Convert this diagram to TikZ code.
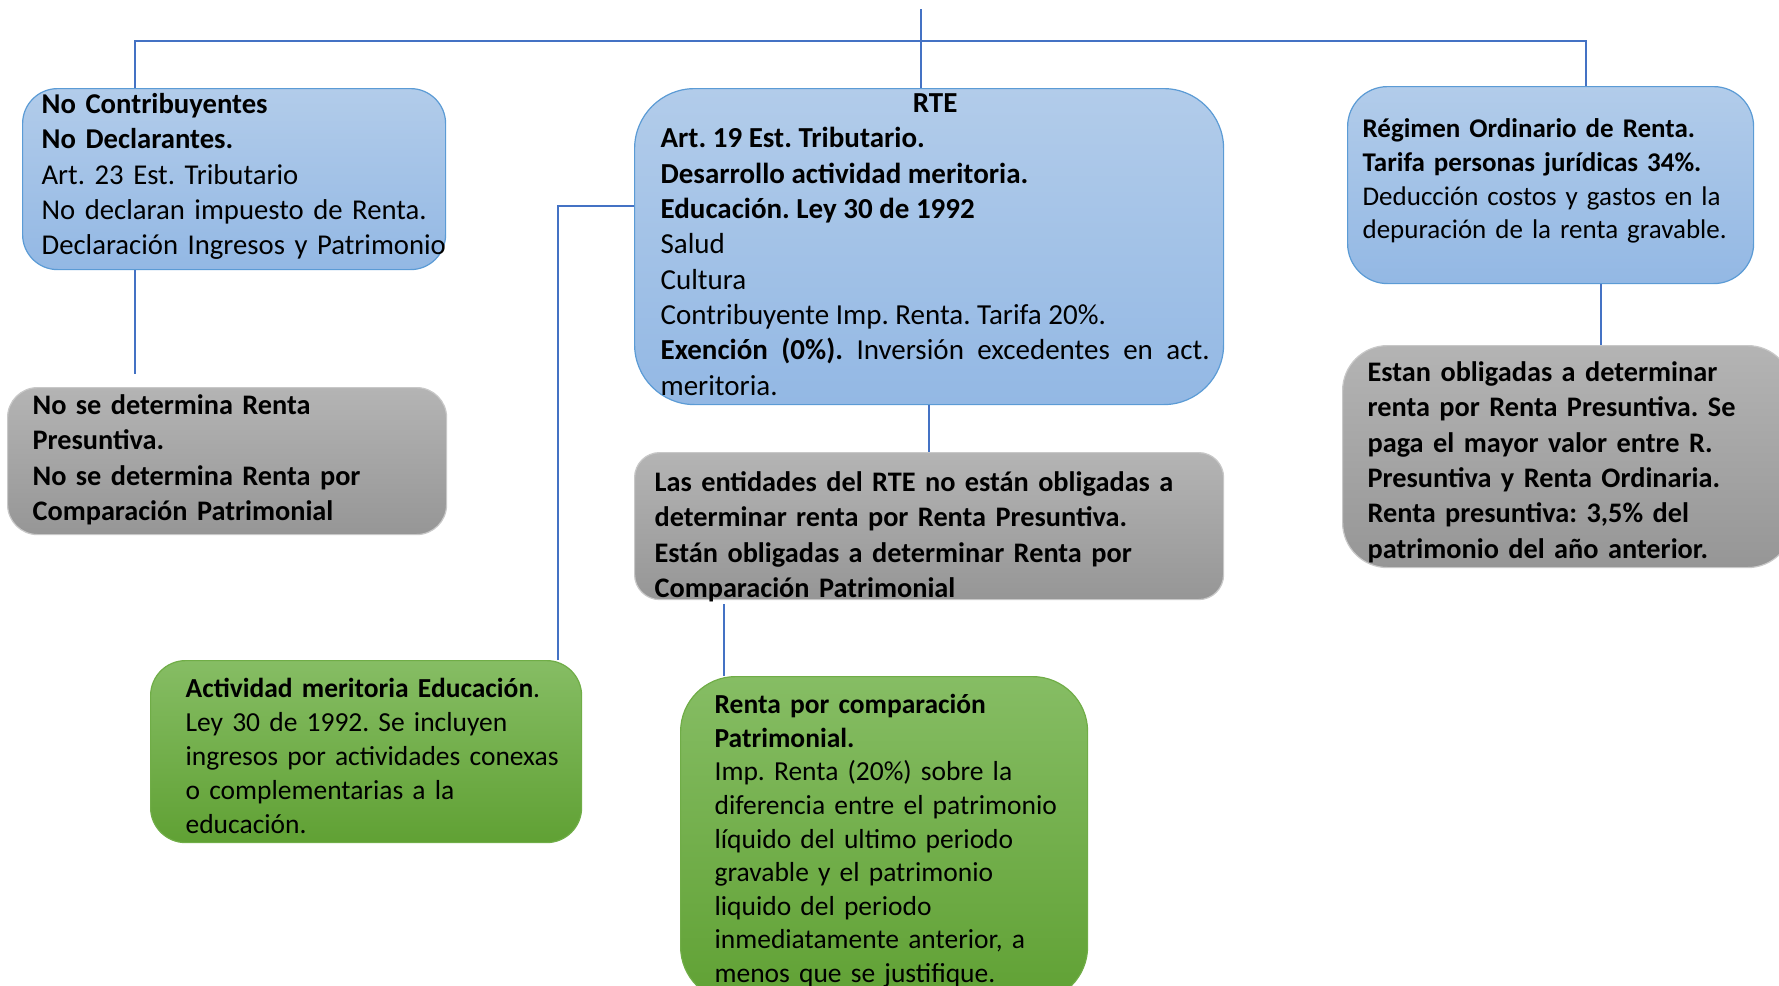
\documentclass[tikz,border=0pt]{standalone}
\usepackage{fontspec}
\setmainfont{Carlito}
\frenchspacing
\definecolor{linkblue}{RGB}{68,114,196}
\definecolor{bluetop}{RGB}{178,204,234}
\definecolor{bluebot}{RGB}{147,184,228}
\definecolor{blueline}{RGB}{91,155,213}
\definecolor{graytop}{RGB}{180,180,180}
\definecolor{graybot}{RGB}{150,150,150}
\definecolor{grayline}{RGB}{200,200,200}
\definecolor{greentop}{RGB}{134,189,100}
\definecolor{greenbot}{RGB}{96,161,52}
\definecolor{greenline}{RGB}{112,173,71}
\tikzset{
    box/.style = {anchor = north west, inner ysep = 0pt, inner xsep = 0pt, line width = 1.2pt, rounded corners = #1},
    pad/.style 2 args = {execute at begin node = {\leftskip=#1\rightskip=#2}},
    bluebox/.style = {box = #1, draw = blueline, top color = bluetop, bottom color = bluebot, align = left},
    graybox/.style = {box = #1, draw = grayline, top color = graytop, bottom color = graybot, align = left,
        font = \fontsize{28.3}{35.3}\selectfont\bfseries},
    greenbox/.style = {box = #1, draw = greenline, top color = greentop, bottom color = greenbot, align = left},
    link/.style = {draw = linkblue, line width = 2.5pt}
}

\begin{document}
\begin{tikzpicture}[x = 1pt, y = -1pt, font = \fontsize{29}{35.3}\selectfont]
    \useasboundingbox (0,0) rectangle (1779,985);

    \node[bluebox = 35pt, text width = 423pt, pad = {19pt}{0pt plus 1fil}, text height = 25pt, text depth = 156pt, font = \fontsize{28.7}{35.3}\selectfont] (nc) at (22,88)
        {\textbf{No Contribuyentes}\\ \textbf{No Declarantes.}\\ Art. 23 Est. Tributario\\ No declaran impuesto de Renta.\\ \mbox{Declaración Ingresos y Patrimonio}};
    \node[graybox = 30pt, text width = 439pt, pad = {25pt}{0pt plus 1fil}, text height = 27pt, text depth = 120pt] (ns) at (7,387)
        {No se determina Renta\\ Presuntiva.\\ No se determina Renta por\\ Comparación Patrimonial};

    \node[bluebox = 60pt, align = justify, text width = 589pt, pad = {26pt}{14pt}, text height = 24pt, text depth = 292pt] (rte) at (634,88)
        {\hfill\textbf{RTE}\hfill\null\\ \textbf{Art. 19 Est. Tributario.}\\ \textbf{Desarrollo actividad meritoria.}\\ \textbf{Educación. Ley 30 de 1992}\\ Salud\\ Cultura\\ Contribuyente Imp. Renta. Tarifa 20\%.\\ \textbf{Exención (0\%).} Inversión excedentes en act.\linebreak meritoria.};
    \node[graybox = 25pt, text width = 589pt, pad = {20pt}{0pt plus 1fil}, text height = 39pt, text depth = 108pt] (rtegray) at (634,452)
        {Las entidades del RTE no están obligadas a\\ determinar renta por Renta Presuntiva.\\ Están obligadas a determinar Renta por\\ \mbox{Comparación Patrimonial}};

    \node[bluebox = 40pt, text width = 406pt, pad = {15pt}{0pt plus 1fil}, text height = 51pt, text depth = 146pt, font = \fontsize{27}{33.7}\selectfont] (reg) at (1347,86)
        {\textbf{Régimen Ordinario de Renta.}\\ \textbf{Tarifa personas jurídicas 34\%.}\\ Deducción costos y gastos en la\\ depuración de la renta gravable.};
    \node[graybox = 45pt, text width = 450pt, pad = {25pt}{0pt plus 1fil}, text height = 36pt, text depth = 186pt] (estan) at (1342,345)
        {Estan obligadas a determinar\\ renta por Renta Presuntiva. Se\\ paga el mayor valor entre R.\\ Presuntiva y Renta Ordinaria.\\ Renta presuntiva: 3,5\% del\\ patrimonio del año anterior.};

    \node[greenbox = 35pt, text width = 431pt, pad = {35pt}{0pt plus 1fil}, text height = 37pt, text depth = 145pt, font = \fontsize{27.5}{34}\selectfont] (act) at (150,660)
        {\textbf{Actividad meritoria Educación}.\\ Ley 30 de 1992. Se incluyen\\ ingresos por actividades conexas\\ o complementarias a la\\ educación.};
    \node[greenbox = 55pt, text width = 407pt, pad = {34pt}{0pt plus 1fil}, text height = 37pt, text depth = 288pt, font = \fontsize{27.5}{33.6}\selectfont] (renta) at (680,676)
        {\textbf{Renta por comparación}\\ \textbf{Patrimonial.}\\ Imp. Renta (20\%) sobre la\\ diferencia entre el patrimonio\\ líquido del ultimo periodo\\ gravable y el patrimonio\\ liquido del periodo\\ inmediatamente anterior, a\\ menos que se justifique.};

    \coordinate (top) at (921,9);
    \coordinate (hl) at (135,41);
    \coordinate (hr) at (1586,41);
    \coordinate (ncend) at (135,374);
    \coordinate (bend) at (558,206);
    \coordinate (rgout) at (724,604);
    \coordinate (regx) at (1601,0);

    \draw[link] (top) -- (top |- rte.north);
    \draw[link] (nc.north -| hl) -- (hl) -- (hr) -- (hr |- reg.north);
    \draw[link] (nc.south -| ncend) -- (ncend);
    \draw[link] (rte.west |- bend) -- (bend) -- (bend |- act.north);
    \draw[link] (rte.south) -- (rtegray.north);
    \draw[link] (rgout) -- (rgout |- renta.north);
    \draw[link] (reg.south -| regx) -- (estan.north -| regx);
\end{tikzpicture}
\end{document}
